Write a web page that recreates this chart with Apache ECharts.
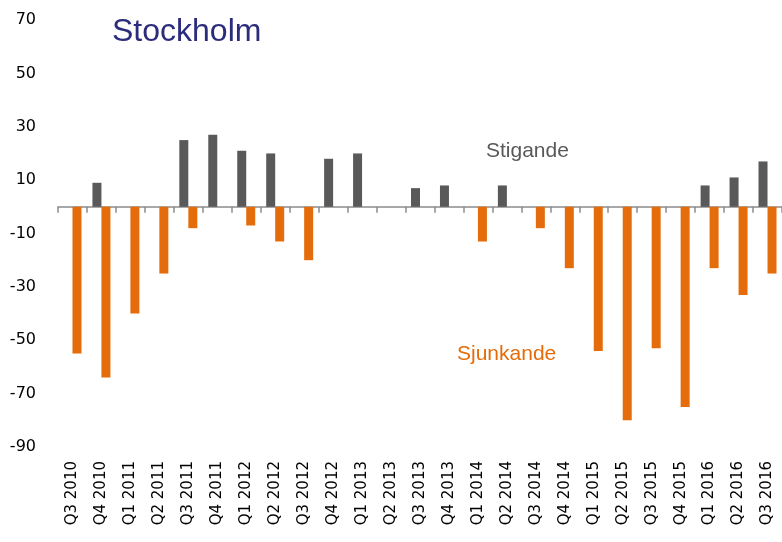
<!DOCTYPE html>
<html>
<head>
<meta charset="utf-8">
<script src="https://cdn.jsdelivr.net/npm/echarts@6/dist/echarts.min.js"></script>
<style>
  html, body { margin: 0; padding: 0; background: #fff; }
  #chart { width: 782px; height: 542px; }
</style>
</head>
<body>
<div id="chart"></div>
<script>
// kvartal
const categories = [
  'Q3 2010', 'Q4 2010', 'Q1 2011', 'Q2 2011', 'Q3 2011', 'Q4 2011', 'Q1 2012', 'Q2 2012', 'Q3 2012',
  'Q4 2012', 'Q1 2013', 'Q2 2013', 'Q3 2013', 'Q4 2013', 'Q1 2014', 'Q2 2014', 'Q3 2014', 'Q4 2014',
  'Q1 2015', 'Q2 2015', 'Q3 2015', 'Q4 2015', 'Q1 2016', 'Q2 2016', 'Q3 2016'
];
// andel som anger stigande priser
const stigande = [0, 9, 0, 0, 25, 27, 21, 20, 0, 18, 20, 0, 7, 8, 0, 8, 0, 0, 0, 0, 0, 0, 8, 11, 17];
// andel som anger sjunkande priser
const sjunkande = [-55, -64, -40, -25, -8, 0, -7, -13, -20, 0, 0, 0, 0, 0, -13, 0, -8, -23, -54, -80, -53, -75, -23, -33, -25];
const yTicks = [-90, -70, -50, -30, -10, 10, 30, 50, 70];

const chart = echarts.init(document.getElementById('chart'));
chart.setOption({
  animation: false,
  title: {
    text: 'Stockholm',
    left: 107,
    top: 11,
    textStyle: { fontFamily: 'Liberation Sans', fontSize: 32, fontWeight: 'normal', color: '#2B2C7C' }
  },
  grid: { left: 58, right: -4, top: 20, bottom: 95 },
  xAxis: [
    {
      type: 'category',
      data: categories,
      position: 'bottom',
      axisLine: { show: false, onZero: false },
      axisTick: { show: false },
      axisLabel: {
        rotate: 90,
        margin: 14,
        interval: 0,
        fontFamily: 'DejaVu Sans',
        fontSize: 15,
        color: '#000'
      }
    },
    {
      // nollinjen med streck mellan kvartalen
      type: 'category',
      data: categories,
      position: 'bottom',
      axisLine: { onZero: true, lineStyle: { color: '#8C8C8C', width: 1.5 } },
      axisTick: { show: true, interval: 0, length: 6, lineStyle: { color: '#8C8C8C', width: 1.5 } },
      axisLabel: { show: false }
    }
  ],
  yAxis: {
    type: 'value',
    min: -90,
    max: 70,
    interval: 10,
    axisLine: { show: false },
    axisTick: { show: false },
    splitLine: { show: false },
    axisLabel: {
      customValues: yTicks,
      margin: 22,
      fontFamily: 'DejaVu Sans',
      fontSize: 16,
      color: '#000'
    }
  },
  series: [
    {
      name: 'Stigande',
      type: 'bar',
      xAxisIndex: 0,
      data: stigande,
      barWidth: 9,
      barGap: '0%',
      itemStyle: { color: '#595959' }
    },
    {
      name: 'Sjunkande',
      type: 'bar',
      xAxisIndex: 0,
      data: sjunkande,
      barWidth: 9,
      barGap: '0%',
      itemStyle: { color: '#E46C0A' }
    }
  ],
  graphic: [
    {
      type: 'text',
      left: 486,
      top: 141,
      style: { text: 'Stigande', fontFamily: 'Liberation Sans', fontSize: 21, fill: '#595959' }
    },
    {
      type: 'text',
      left: 457,
      top: 344,
      style: { text: 'Sjunkande', fontFamily: 'Liberation Sans', fontSize: 21, fill: '#E46C0A' }
    }
  ]
});
</script>
</body>
</html>
